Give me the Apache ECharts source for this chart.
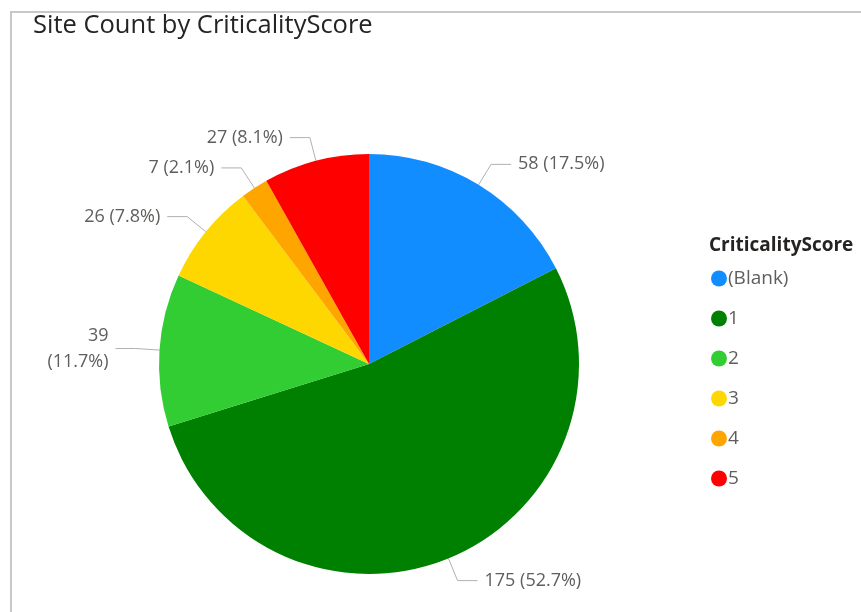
<!DOCTYPE html>
<html>
<head>
<meta charset="utf-8">
<script src="https://cdn.jsdelivr.net/npm/echarts@6/dist/echarts.min.js"></script>
<style>
  html, body { margin: 0; padding: 0; background: #fff; }
  #frame {
    position: absolute; left: 10px; top: 11px; width: 851px; height: 601px;
    border-left: 2px solid #c8c8c8; border-top: 2px solid #c8c8c8;
  }
  #chart { position: absolute; left: 0; top: 0; width: 861px; height: 612px; }
</style>
</head>
<body>
<div id="frame"></div>
<div id="chart"></div>
<script>
const categories = ['(Blank)', '1', '2', '3', '4', '5'];
const siteCounts = [58, 175, 39, 26, 7, 27];
const sliceColors = ['#118DFF', '#008000', '#32CD32', '#FFD700', '#FFA500', '#FF0000'];

const labelFont = '"Open Sans", "Noto Sans", sans-serif';
const total = siteCounts.reduce(function (a, b) { return a + b; }, 0);

function pct(v) {
  return (v / total * 100).toFixed(1) + '%';
}

let chart = echarts.init(document.getElementById('chart'), null, { renderer: 'canvas' });

let pieData = categories.map(function (name, i) {
  let item = { name: name, value: siteCounts[i], itemStyle: { color: sliceColors[i] } };
  if (name === '2') {
    // this one wraps onto two lines in the original
    item.label = { align: 'right' };
  }
  return item;
});

chart.setOption({
  animation: false,
  title: [
    {
      text: 'Site Count by CriticalityScore',
      left: 28, top: 8,
      textStyle: { fontFamily: labelFont, fontSize: 25.5, fontWeight: 'normal', color: '#252423' }
    },
    {
      text: 'CriticalityScore',
      left: 704, top: 231,
      textStyle: { fontFamily: labelFont, fontSize: 19, fontWeight: 'bold', color: '#252423', lineHeight: 20 }
    }
  ],
  legend: {
    orient: 'vertical',
    left: 706, top: 264,
    icon: 'circle',
    itemWidth: 16, itemHeight: 16,
    itemGap: 21,
    textStyle: { fontFamily: labelFont, fontSize: 19, lineHeight: 16, color: '#605E5C', padding: [0, 0, 0, -4] },
    data: categories
  },
  series: [{
    type: 'pie',
    center: [369, 364],
    radius: 210,
    startAngle: 90,
    clockwise: true,
    label: {
      show: true,
      formatter: function (p) {
        let sep = p.name === '2' ? '\n' : ' ';
        return p.value + sep + '(' + pct(p.value) + ')';
      },
      fontFamily: labelFont,
      fontSize: 18,
      lineHeight: 26,
      color: '#605E5C',
      distanceToLabelLine: 7
    },
    labelLine: {
      show: true,
      length: 24,
      length2: 20,
      lineStyle: { color: '#b3b0ad', width: 1 }
    },
    itemStyle: { borderWidth: 0 },
    emphasis: { disabled: true },
    data: pieData
  }]
});
</script>
</body>
</html>
